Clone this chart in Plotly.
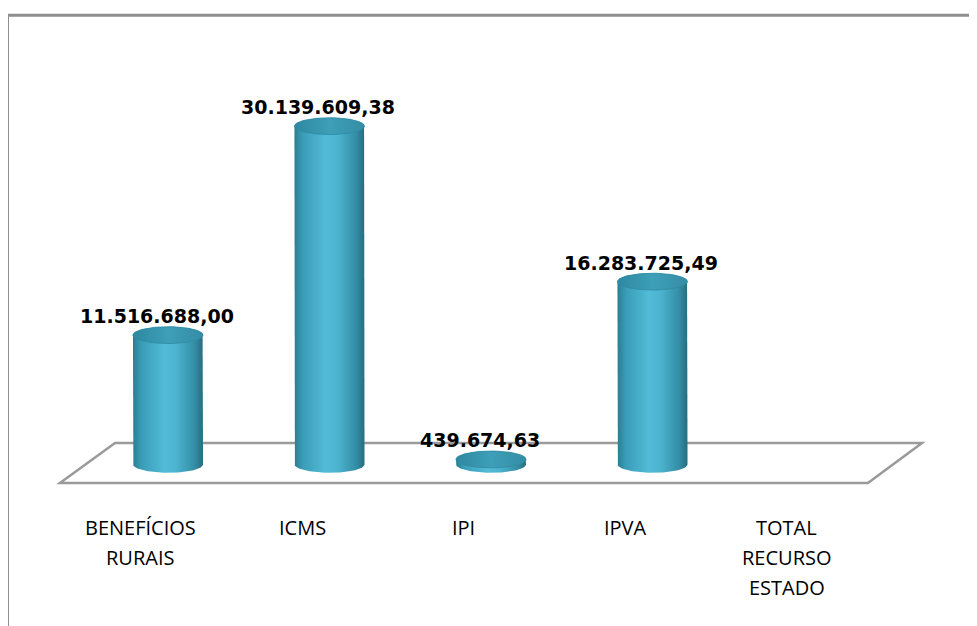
import numpy as np
import plotly.graph_objects as go

CATEGORIES = ["BENEFÍCIOS\nRURAIS", "ICMS", "IPI", "IPVA", "TOTAL\nRECURSO\nESTADO"]
VALUES = [11516688.00, 30139609.38, 439674.63, 16283725.49, None]

BODY_COLORS = [
    [0.0, "#2a7d93"],
    [0.12, "#3a9db7"],
    [0.45, "#52bbd7"],
    [0.62, "#4cb3cf"],
    [0.88, "#338ea6"],
    [1.0, "#276c80"],
]
TOP_COLORS = [[0.0, "#2d88a0"], [0.5, "#3e9fb8"], [1.0, "#348da5"]]
HALF_W = 0.217        # cylinder radius in category units
HALF_H = 0.75e6       # ellipse half-height in value units
LABEL_FONT = "'Open Sans', sans-serif"


def br_format(v: float) -> str:
    return f"{v:,.2f}".replace(",", "X").replace(".", ",").replace("X", ".")


fig = go.Figure()
t = np.linspace(0, np.pi, 40)

for i, v in enumerate(VALUES):
    if v is None:
        continue
    # body: left side down, front half of base ellipse, right side up, back along top
    xs = np.concatenate([
        [i - HALF_W],
        i - HALF_W * np.cos(t),
        [i + HALF_W],
        i + HALF_W * np.cos(t),
    ])
    ys = np.concatenate([
        [v],
        -HALF_H * np.sin(t),
        [v],
        v + HALF_H * np.sin(t),
    ])
    fig.add_trace(go.Scatter(
        x=xs, y=ys, mode="lines", fill="toself", line=dict(width=0),
        fillgradient=dict(type="horizontal", colorscale=BODY_COLORS),
        hoverinfo="skip", showlegend=False,
    ))
    tt = np.linspace(0, 2 * np.pi, 80)
    fig.add_trace(go.Scatter(
        x=i + HALF_W * np.cos(tt), y=v + HALF_H * np.sin(tt),
        mode="lines", fill="toself", line=dict(width=0.8, color="#2f8aa1"),
        fillgradient=dict(type="horizontal", colorscale=TOP_COLORS),
        hoverinfo="skip", showlegend=False,
    ))
    fig.add_annotation(
        x=i, y=v, xref="x", yref="y", text=f"<b>{br_format(v)}</b>",
        showarrow=False, xshift=-11, yshift=19,
        font=dict(family="DejaVu Sans", size=19, color="#000000"),
    )

for i, cat in enumerate(CATEGORIES):
    for j, line in enumerate(cat.split("\n")):
        fig.add_annotation(
            x=i, y=0, xref="x", yref="y", text=line, showarrow=False,
            xshift=-27, yshift=-(63 + 30 * j),
            font=dict(family=LABEL_FONT, size=20, color="#000000"),
        )

# floor parallelogram
fig.add_shape(
    type="path", xref="x", yref="y", layer="below",
    path="M -0.669,-1.67e6 L -0.328,1.9e6 L 4.669,1.9e6 L 4.334,-1.67e6 Z",
    line=dict(color="#9a9a9a", width=2.5), fillcolor="white",
)
# outer frame
fig.add_shape(
    type="rect", xref="paper", yref="paper", layer="below",
    x0=-0.0005, x1=1.02, y0=-0.03, y1=0.9885,
    line=dict(color="#8f8f8f", width=3), fillcolor="white",
)

# the page body adds an 8px offset, so the ranges are shifted to compensate
fig.update_layout(
    width=977, height=626,
    margin=dict(l=0, r=0, t=0, b=0),
    paper_bgcolor="white", plot_bgcolor="white",
    xaxis=dict(range=[-0.9907, 5.059], visible=False, fixedrange=True),
    yaxis=dict(range=[-15.12e6, 40.67e6], visible=False, fixedrange=True),
    showlegend=False,
)

fig.write_html("out.html")
